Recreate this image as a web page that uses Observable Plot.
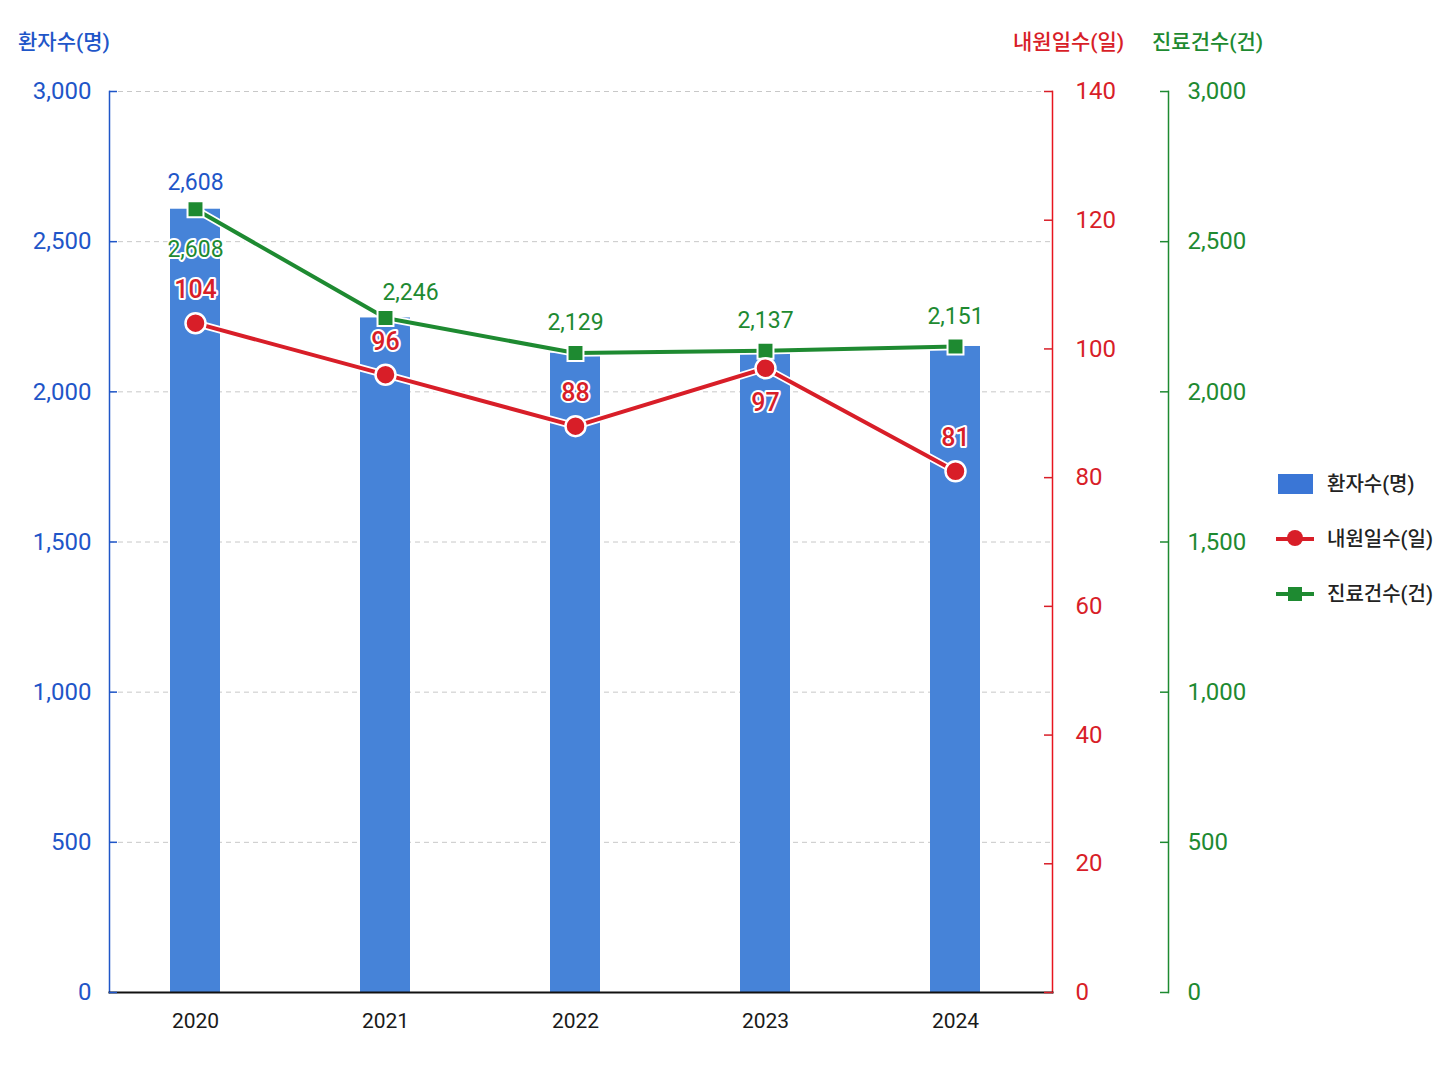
<!DOCTYPE html>
<html><head><meta charset="utf-8">
<script src="https://cdn.jsdelivr.net/npm/d3@7"></script>
<script src="https://cdn.jsdelivr.net/npm/@observablehq/plot@0.6"></script>
<style>
body{margin:0;background:#fff;font-family:Roboto,"Noto Sans CJK KR",sans-serif;}
#wrap{position:relative;width:1448px;height:1086px;overflow:hidden;}
#wrap svg{position:absolute;left:0;top:0;}
.title{position:absolute;top:28px;font-size:21px;line-height:28px;white-space:nowrap;font-weight:500;}
.leg{position:absolute;left:1276px;width:170px;height:30px;}
.leg .txt{position:absolute;left:51px;top:0;line-height:30px;font-size:20px;color:#222;white-space:nowrap;font-weight:500;}
</style></head><body><div id="wrap"></div>
<script>
const years = ["2020", "2021", "2022", "2023", "2024"];
const patients = [2608, 2246, 2129, 2137, 2151];    // 환자수(명)
const visitDays = [104, 96, 88, 97, 81];             // 내원일수(일)
const treatments = [2608, 2246, 2129, 2137, 2151];  // 진료건수(건)
const leftTicks = [0, 500, 1000, 1500, 2000, 2500, 3000];
const redTicks = [0, 20, 40, 60, 80, 100, 120, 140];
const greenTicks = [0, 500, 1000, 1500, 2000, 2500, 3000];
const seriesNames = ["환자수(명)", "내원일수(일)", "진료건수(건)"];

const yMax = 3000, redMax = 140;
const toLeft = v => v * yMax / redMax;
const fmt = d3.format(",");

const BLUE_TXT = "#1f56c8", BAR = "#4683d8", RED = "#d81e28", GREEN = "#1e8a31";

const rows = years.map((year, i) => ({
  year, patients: patients[i], days: visitDays[i], dayY: toLeft(visitDays[i]), cases: treatments[i]
}));

const halo = {stroke: "white", strokeWidth: 4, strokeLinejoin: "round"};

const chart = Plot.plot({
  width: 1448, height: 1086,
  marginLeft: 109, marginRight: 396, marginTop: 91, marginBottom: 94,
  style: {fontFamily: 'Roboto, "Noto Sans CJK KR", sans-serif', background: "transparent"},
  x: {type: "band", domain: years, paddingInner: 0.737, paddingOuter: 0.35, align: 0.46},
  y: {domain: [0, yMax]},
  marks: [
    Plot.gridY(leftTicks.filter(d => d > 0), {stroke: "#c8c8c8", strokeOpacity: 1, strokeDasharray: "5,4"}),
    Plot.barY(rows, {x: "year", y: "patients", fill: BAR}),
    Plot.frame({anchor: "left", stroke: BLUE_TXT, strokeWidth: 1.5}),
    Plot.frame({anchor: "right", stroke: "#e8141e", strokeWidth: 1.5}),
    Plot.frame({anchor: "right", stroke: GREEN, strokeWidth: 1.5, dx: 116}),
    Plot.frame({anchor: "bottom", stroke: "#111", strokeWidth: 2}),
    Plot.axisY({anchor: "left", ticks: leftTicks, tickFormat: fmt, tickSize: -8, tickPadding: 26, color: BLUE_TXT, fontSize: 24, strokeWidth: 1.5, label: null}),
    Plot.axisY({anchor: "right", ticks: redTicks.map(toLeft), tickFormat: d => String(Math.round(d * redMax / yMax)), tickSize: -9, tickPadding: 32, color: RED, fontSize: 24, strokeWidth: 1.5, label: null}),
    Plot.axisY({anchor: "right", ticks: greenTicks, tickFormat: fmt, tickSize: -9, tickPadding: 28, dx: 116, color: GREEN, fontSize: 24, strokeWidth: 1.5, label: null}),
    Plot.axisX({tickSize: 0, tickPadding: 21, fontSize: 21, color: "#1a1a1a", label: null}),
    // 진료건수 line
    Plot.line(rows, {x: "year", y: "cases", stroke: "white", strokeWidth: 7.5}),
    Plot.line(rows, {x: "year", y: "cases", stroke: GREEN, strokeWidth: 4}),
    Plot.dot(rows, {x: "year", y: "cases", symbol: "square", r: 9, fill: GREEN, stroke: "white", strokeWidth: 2}),
    // 내원일수 line
    Plot.line(rows, {x: "year", y: "dayY", stroke: "white", strokeWidth: 7.5}),
    Plot.line(rows, {x: "year", y: "dayY", stroke: RED, strokeWidth: 4}),
    Plot.dot(rows, {x: "year", y: "dayY", r: 10, fill: RED, stroke: "white", strokeWidth: 2.5}),
    // labels
    Plot.text(rows.filter(d => d.year === "2020"), {x: "year", y: "patients", text: d => fmt(d.patients), dy: -27, fill: BLUE_TXT, fontSize: 23, ...halo}),
    Plot.text(rows.filter(d => d.year === "2020"), {x: "year", y: "cases", text: d => fmt(d.cases), dy: 40, fill: GREEN, fontSize: 23, ...halo}),
    Plot.text(rows.filter(d => d.year === "2021"), {x: "year", y: "cases", text: d => fmt(d.cases), dy: -25, dx: 25, fill: GREEN, fontSize: 23, ...halo}),
    Plot.text(rows.filter(d => d.year > "2021"), {x: "year", y: "cases", text: d => fmt(d.cases), dy: -30, fill: GREEN, fontSize: 23, ...halo}),
    Plot.text(rows.filter(d => d.year !== "2023"), {x: "year", y: "dayY", text: d => String(d.days), dy: -33, fill: RED, fontSize: 25, fontWeight: 500, ...halo}),
    Plot.text(rows.filter(d => d.year === "2023"), {x: "year", y: "dayY", text: d => String(d.days), dy: 35, fill: RED, fontSize: 25, fontWeight: 500, ...halo})
  ]
});

const wrap = document.getElementById("wrap");
wrap.appendChild(chart);

function addTitle(text, left, color) {
  const t = document.createElement("div");
  t.className = "title"; t.textContent = text; t.style.left = left + "px"; t.style.color = color;
  wrap.appendChild(t);
}
addTitle(seriesNames[0], 18, BLUE_TXT);
addTitle(seriesNames[1], 1013, RED);
addTitle(seriesNames[2], 1152, GREEN);

function addLegend(top, name, kind, color) {
  const g = document.createElement("div");
  g.className = "leg"; g.style.top = top + "px";
  let sym = "";
  if (kind === "bar") {
    sym = `<div style="position:absolute;left:2px;top:5px;width:35px;height:20px;background:${color}"></div>`;
  } else {
    sym = `<div style="position:absolute;left:0;top:13px;width:38px;height:3.5px;background:${color}"></div>`;
    if (kind === "circle") sym += `<div style="position:absolute;left:11px;top:6px;width:16px;height:16px;border-radius:50%;background:${color}"></div>`;
    else sym += `<div style="position:absolute;left:12px;top:7.5px;width:14px;height:14px;background:${color}"></div>`;
  }
  g.innerHTML = sym + `<div class="txt">${name}</div>`;
  wrap.appendChild(g);
}
addLegend(469, seriesNames[0], "bar", "#3a76d6");
addLegend(524, seriesNames[1], "circle", RED);
addLegend(579, seriesNames[2], "square", GREEN);
</script></body></html>
